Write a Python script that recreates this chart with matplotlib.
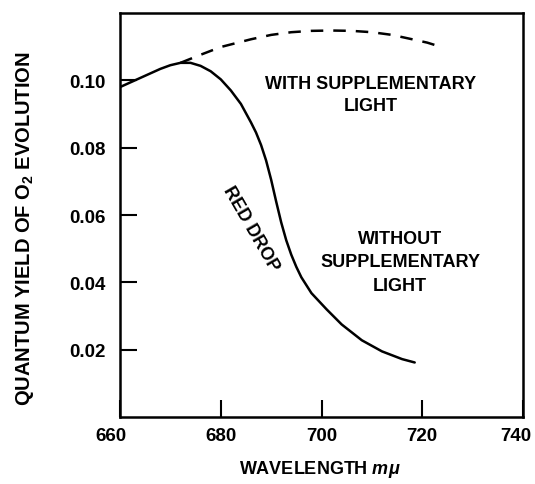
import matplotlib
matplotlib.use("Agg")
import matplotlib.pyplot as plt
from matplotlib.transforms import ScaledTranslation

plt.rcParams['font.family'] = ['Liberation Sans', 'DejaVu Sans']
plt.rcParams['mathtext.fontset'] = 'custom'
plt.rcParams['mathtext.rm'] = 'Liberation Sans:bold'
plt.rcParams['mathtext.it'] = 'Liberation Sans:italic:bold'

# Without supplementary light (solid)
wl_without = [660, 664, 668, 670, 672, 674, 676, 678, 680, 682, 684, 686, 687, 688, 689, 690,
              691, 692, 693, 694, 695, 696, 698, 701, 704, 708, 712, 716, 718.5]
qy_without = [0.098, 0.1007, 0.1034, 0.1045, 0.1052, 0.1052, 0.1043, 0.1027, 0.1003, 0.097,
              0.0930, 0.0875, 0.0845, 0.0808, 0.0762, 0.0705, 0.0640, 0.0578, 0.0525, 0.0482,
              0.0446, 0.0415, 0.0368, 0.032, 0.0275, 0.0228, 0.0195, 0.0172, 0.0162]

# With supplementary light (dashed)
wl_with = [672, 676, 680, 686, 690, 694, 698, 702, 706, 710, 714, 718, 721, 724]
qy_with = [0.1052, 0.1076, 0.1099, 0.1122, 0.1135, 0.1143, 0.1147, 0.1148, 0.1147, 0.1143,
           0.1135, 0.1122, 0.1112, 0.1098]

xticks = [660, 680, 700, 720, 740]
yticks = [0.02, 0.04, 0.06, 0.08, 0.10]
ytick_labels = ["0.02", "0.04", "0.06", "0.08", "0.10"]

fig = plt.figure(figsize=(5.35, 4.85), dpi=100)
ax = fig.add_axes([0.2243, 0.1381, 0.7533, 0.833])

ax.plot(wl_without, qy_without, color='black', lw=1.8, solid_capstyle='round',
        solid_joinstyle='round')
ax.plot(wl_with, qy_with, color='black', lw=1.8, linestyle=(0, (5, 4)))

ax.set_xlim(660, 740)
ax.set_ylim(0, 0.12)
ax.set_xticks(xticks)
ax.set_xticklabels([str(v) for v in xticks])
ax.set_yticks(yticks)
ax.set_yticklabels(ytick_labels)
ax.tick_params(direction='in', length=12, width=1.5, labelsize=13.5, colors='black')
ax.tick_params(axis='x', pad=7)
ax.tick_params(axis='y', pad=10)
for lab in ax.get_xticklabels() + ax.get_yticklabels():
    lab.set_fontweight('bold')
xl = ax.get_xticklabels()
xl[0].set_transform(xl[0].get_transform() + ScaledTranslation(-9 / 100, 0, fig.dpi_scale_trans))
xl[-1].set_transform(xl[-1].get_transform() + ScaledTranslation(-7 / 100, 0, fig.dpi_scale_trans))
for s in ax.spines.values():
    s.set_linewidth(1.8)

tk = dict(fontsize=13, ha='center', va='center', color='black', fontweight='bold')
ax.text(709.8, 0.0992, "WITH SUPPLEMENTARY", **tk)
ax.text(709.8, 0.0924, "LIGHT", **tk)
ax.text(715.6, 0.0529, "WITHOUT", **tk)
ax.text(715.6, 0.0463, "SUPPLEMENTARY", **tk)
ax.text(715.6, 0.0392, "LIGHT", **tk)
ax.text(686.0, 0.0561, "RED DROP", rotation=-60, rotation_mode='anchor', **tk)

fig.text(320 / 535, 1 - 470 / 485, r"WAVELENGTH $\it{m\mu}$", fontsize=13, fontweight='bold',
         ha='center', va='center')
fig.text(25 / 535, 1 - 229 / 485, r"QUANTUM YIELD OF O$_2$ EVOLUTION", fontsize=14.5,
         fontweight='bold', ha='center', va='center', rotation=90)

fig.savefig("out.png", dpi=100)
